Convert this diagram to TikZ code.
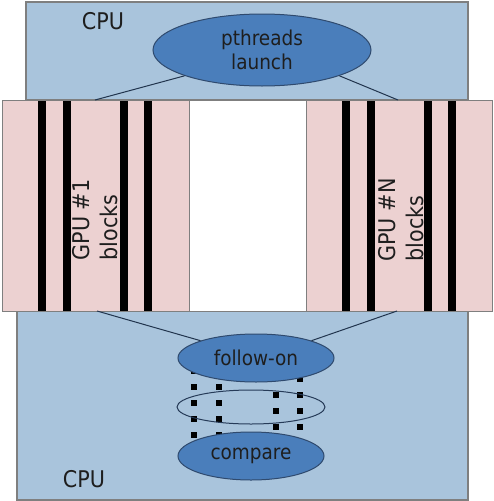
\documentclass[tikz,border=0pt]{standalone}
\usepackage{fontspec}
\setmainfont{DejaVu Sans Condensed}
\usetikzlibrary{shapes.geometric}
\definecolor{cpufill}{HTML}{A9C4DC}
\definecolor{boxline}{HTML}{7F7F7F}
\definecolor{pinkfill}{HTML}{ECD1D1}
\definecolor{ellfill}{HTML}{4A7EBB}
\definecolor{ellline}{HTML}{2F4A6E}
\definecolor{txt}{HTML}{1E1E1E}
\tikzset{
  cpubox/.style={draw=boxline,fill=cpufill,line width=1.2pt},
  gpubox/.style={draw=boxline,fill=pinkfill,line width=1pt},
  bar/.style={fill=black},
  ell/.style={ellipse,draw=ellline,fill=ellfill,line width=1pt,inner sep=0pt,
    text=txt,align=center,font=\fontsize{20.5}{24}\selectfont},
  ring/.style={ellipse,draw=ellline!80!black,line width=1pt,inner sep=0pt},
  lbl/.style={text=txt,font=\fontsize{23}{27}\selectfont},
  gpulbl/.style={text=txt,rotate=90,align=left,font=\fontsize{23}{28}\selectfont},
  conn/.style={draw=ellline!70!black,line width=1pt},
  dots/.style={line width=6pt,dash pattern=on 6pt off 10pt}
}
\begin{document}
\begin{tikzpicture}[x=1pt,y=-1pt]
\useasboundingbox (0,0) rectangle (494,501);
% CPU boxes
\draw[cpubox] (26,2) rectangle (468,100);
\draw[cpubox] (17,311) rectangle (468,500);
\node[lbl] (cputop) at (103,21) {CPU};
\node[lbl] (cpubot) at (84,479) {CPU};
% GPU area
\draw[draw=boxline,fill=white,line width=1pt] (2,100) rectangle (492,311);
\draw[gpubox] (2,100) rectangle (189,311);
\draw[gpubox] (306,100) rectangle (492,311);
\foreach \x in {42,66.5,123.5,148,346,370.5,428,452}
  \fill[bar] (\x-4,100.5) rectangle (\x+4,310.5);
\node[gpulbl] (gpu1) at (95,220) {GPU \#1\\blocks};
\node[gpulbl] (gpun) at (401,220) {GPU \#N\\blocks};
% connector endpoints
\coordinate (tl) at (95,100);
\coordinate (tr) at (398,100);
\coordinate (bl) at (97,311);
\coordinate (br) at (397,311);
% dotted columns
\coordinate (d1a) at (194,368); \coordinate (d1b) at (194,440);
\coordinate (d2a) at (219,368); \coordinate (d2b) at (219,440);
\coordinate (d3a) at (276,392); \coordinate (d3b) at (276,431);
\coordinate (d4a) at (300,376); \coordinate (d4b) at (300,431);
\draw[dots] (d1a) -- (d1b);
\draw[dots] (d2a) -- (d2b);
\draw[dots] (d3a) -- (d3b);
\draw[dots] (d4a) -- (d4b);
% ellipses
\node[ell,minimum width=218pt,minimum height=72pt] (launch) at (262,50) {pthreads\\launch};
\node[ring,minimum width=148pt,minimum height=34pt] (mid) at (251,407) {};
\node[ell,minimum width=156pt,minimum height=48pt] (follow) at (256,358) {follow-on};
\node[ell,minimum width=146pt,minimum height=48pt] (compare) at (251,456) {compare};
% connectors
\draw[conn] (launch.south west) -- (tl);
\draw[conn] (launch.south east) -- (tr);
\draw[conn] (follow.north west) -- (bl);
\draw[conn] (follow.north east) -- (br);
\end{tikzpicture}
\end{document}
